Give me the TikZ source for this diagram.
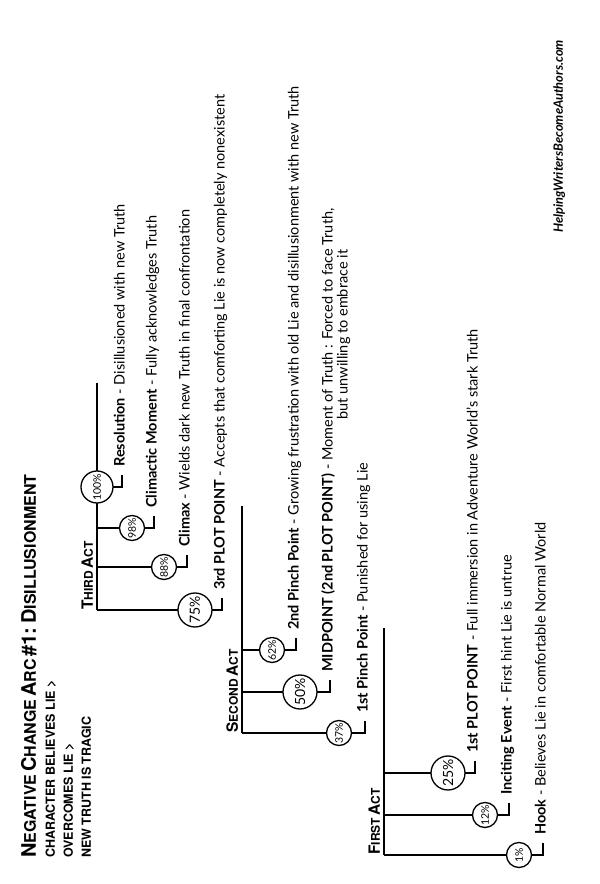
\documentclass[tikz,border=0pt]{standalone}
\usepackage{fontspec}
\setmainfont{Lato}
\newfontfamily\headfont{TeX Gyre Heros}
\usetikzlibrary{positioning}
\newcommand{\headcaps}[4]{%
  {\fontsize{#1}{#1}\selectfont #3}{\fontsize{#2}{#2}\selectfont #4}%
}
\newcommand{\titlesc}[2]{\headcaps{20}{16}{#1}{#2}}
\newcommand{\actsc}[2]{\headcaps{15.5}{12}{#1}{#2}}
% one beat: name, u, v of act line, v of circle, v of bend, circle style, percent, label
\newcommand{\beat}[8]{%
  \coordinate (#1-top) at (#2,#3);
  \coordinate (#1-bend) at (#2,#5);
  \coordinate (#1-end) at (#2+12,#5);
  \draw[dropline] (#1-top) -- (#1-bend) -- (#1-end);
  \node[#6] (#1) at (#2,#4) {#7\%};
  \node[beatlabel] (#1-txt) at (#1-end) {#8};
}

\begin{document}
\begin{tikzpicture}[x=1pt,y=1pt,rotate=90,transform shape,
    actline/.style={line width=2.8pt},
    dropline/.style={line width=1.3pt},
    pct/.style={circle,draw,line width=1.3pt,fill=white,inner sep=0pt,
                minimum size=25pt,font=\fontsize{10.5}{10.5}\selectfont},
    bigpct/.style={pct,minimum size=34pt,font=\fontsize{14}{14}\selectfont},
    toppct/.style={pct,minimum size=32pt},
    beatlabel/.style={anchor=mid west,inner sep=0pt,xshift=8pt,
                      font=\fontsize{14.5}{15}\selectfont},
    actlabel/.style={anchor=base west,inner sep=0pt,font=\headfont\bfseries},
    headline/.style={anchor=base west,inner sep=0pt,font=\headfont\bfseries},
    subline/.style={headline,font=\headfont\bfseries\fontsize{12.5}{12.5}\selectfont}]
  \fill[white] (0,0) rectangle (884,600);
  \useasboundingbox (0,0) rectangle (884,600);

  \node[headline] (title) at (26,564)
        {\titlesc{N}{EGATIVE} \titlesc{C}{HANGE} \titlesc{A}{RC}
         {\fontsize{20}{20}\selectfont\#1:} \titlesc{D}{ISILLUSIONMENT}};
  \node[subline] (sub1) at (26,545) {CHARACTER BELIEVES LIE >};
  \node[subline] (sub2) at (26,527) {OVERCOMES LIE >};
  \node[subline] (sub3) at (26,509) {NEW TRUTH IS TRAGIC};

  % first act
  \coordinate (actone-a) at (29,216);
  \coordinate (actone-b) at (256,216);
  \draw[actline] (actone-a) -- (actone-b);
  \node[actlabel] (actone) at (29,220) {\actsc{F}{IRST} \actsc{A}{CT}};
  \beat{hook}{29}{216}{81}{57}{pct}{1}
       {\textbf{Hook} - Believes Lie in comfortable Normal World}
  \beat{inciting}{69}{216}{115}{91}{pct}{12}
       {\textbf{Inciting Event} - First hint Lie is untrue}
  \beat{plotone}{111}{216}{152}{125}{bigpct}{25}
       {\textbf{1st PLOT POINT} - Full immersion in Adventure World's stark Truth}

  % second act
  \coordinate (acttwo-a) at (151,358);
  \coordinate (acttwo-b) at (378,358);
  \draw[actline] (acttwo-a) -- (acttwo-b);
  \node[actlabel] (acttwo) at (151,362) {\actsc{S}{ECOND} \actsc{A}{CT}};
  \beat{pinchone}{151}{358}{261}{235}{pct}{37}
       {\textbf{1st Pinch Point} - Punished for using Lie}
  \beat{midpoint}{192}{358}{300}{270}{bigpct}{50}
       {\textbf{MIDPOINT (2nd PLOT POINT)} - \begin{tabular}[t]{@{}c@{}}Moment of Truth : Forced to face Truth,\\
        but unwilling to embrace it\end{tabular}}
  \beat{pinchtwo}{234}{358}{328}{304}{pct}{62}
       {\textbf{2nd Pinch Point} - Growing frustration with old Lie and disillusionment with new Truth}

  % third act
  \coordinate (actthree-a) at (274,503);
  \coordinate (actthree-b) at (501,503);
  \draw[actline] (actthree-a) -- (actthree-b);
  \node[actlabel] (actthree) at (274,507) {\actsc{T}{HIRD} \actsc{A}{CT}};
  \beat{plotthree}{274}{503}{405}{378}{bigpct}{75}
       {\textbf{3rd PLOT POINT} - Accepts that comforting Lie is now completely nonexistent}
  \beat{climax}{317}{503}{436}{413}{pct}{88}
       {\textbf{Climax} - Wields dark new Truth in final confrontation}
  \beat{climactic}{356}{503}{468}{446}{pct}{98}
       {\textbf{Climactic Moment} - Fully acknowledges Truth}
  \beat{resolution}{397}{503}{503}{478}{toppct}{100}
       {\textbf{Resolution} - Disillusioned with new Truth}

  \node[anchor=base east,inner sep=0pt,
        font=\bfseries\itshape\fontsize{12.8}{15}\selectfont] (site)
        at (844,37) {HelpingWritersBecomeAuthors.com};
\end{tikzpicture}
\end{document}
